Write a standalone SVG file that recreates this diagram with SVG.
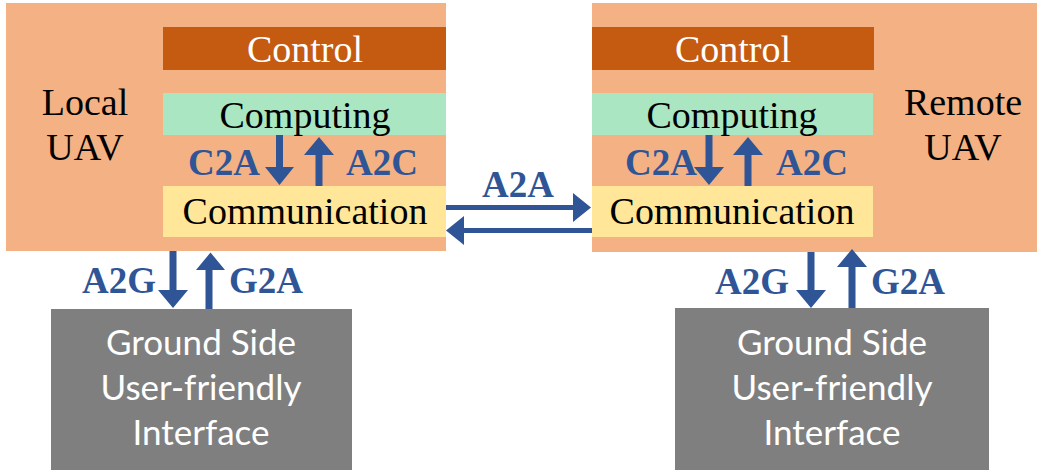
<svg xmlns="http://www.w3.org/2000/svg" width="1037" height="470" viewBox="0 0 1037 470">
  <style>
    .uav { fill: #F4B183; }
    .ctrl { fill: #C55A11; }
    .comp { fill: #A9E6C1; }
    .comm { fill: #FFE699; }
    .gnd { fill: #7F7F7F; }
    .serif { font-family: "Liberation Serif", "Times New Roman", serif; font-size: 38px; text-anchor: middle; }
    .dark { fill: #000000; }
    .light { fill: #FFFFFF; }
    .lbl { font-family: "Liberation Serif", "Times New Roman", serif; font-size: 37px; font-weight: bold; fill: #2F5597; }
    .sans { font-family: Lato, "Open Sans", sans-serif; font-size: 35px; fill: #FFFFFF; text-anchor: middle; }
    .arrow { fill: #2F5597; }
  </style>
  <rect width="1037" height="470" fill="#FFFFFF"/>

  <!-- Local UAV -->
  <g id="local-uav">
    <rect class="uav" x="6" y="3" width="440" height="248"/>
    <text class="serif dark" x="85" y="115">Local</text>
    <text class="serif dark" x="85" y="160">UAV</text>
  </g>
  <g id="local-control">
    <rect class="ctrl" x="163" y="27" width="283" height="43"/>
    <text class="serif light" x="305" y="62">Control</text>
  </g>
  <g id="local-computing">
    <rect class="comp" x="163" y="93" width="283" height="42"/>
    <text class="serif dark" x="305" y="128">Computing</text>
  </g>
  <g id="local-communication">
    <rect class="comm" x="163" y="186" width="283" height="51"/>
    <text class="serif dark" x="305" y="224">Communication</text>
  </g>

  <!-- Remote UAV -->
  <g id="remote-uav">
    <rect class="uav" x="592" y="3" width="445" height="249"/>
    <text class="serif dark" x="963" y="115">Remote</text>
    <text class="serif dark" x="963" y="160">UAV</text>
  </g>
  <g id="remote-control">
    <rect class="ctrl" x="592" y="27" width="282" height="43"/>
    <text class="serif light" x="733" y="62">Control</text>
  </g>
  <g id="remote-computing">
    <rect class="comp" x="592" y="93" width="281" height="42"/>
    <text class="serif dark" x="732" y="128">Computing</text>
  </g>
  <g id="remote-communication">
    <rect class="comm" x="592" y="186" width="281" height="51"/>
    <text class="serif dark" x="732" y="224">Communication</text>
  </g>

  <!-- Ground side interfaces -->
  <g id="local-ground">
    <rect class="gnd" x="51" y="309" width="301" height="161"/>
    <text class="sans" x="201" y="355">Ground Side</text>
    <text class="sans" x="201" y="400">User-friendly</text>
    <text class="sans" x="201" y="445">Interface</text>
  </g>
  <g id="remote-ground">
    <rect class="gnd" x="675" y="308" width="314" height="162"/>
    <text class="sans" x="832" y="355">Ground Side</text>
    <text class="sans" x="832" y="400">User-friendly</text>
    <text class="sans" x="832" y="445">Interface</text>
  </g>

  <!-- Connectors: block arrows with labels -->
  <g id="connectors">
    <!-- local C2A (down) / A2C (up) -->
    <polygon class="arrow" points="276,135 283,135 283,167 294,167 279.5,185 265,167 276,167"/>
    <polygon class="arrow" points="315.5,186 322.5,186 322.5,155 334,155 319,137 304,155 315.5,155"/>
    <text class="lbl" x="188" y="175">C2A</text>
    <text class="lbl" x="346" y="175">A2C</text>

    <!-- remote C2A (down) / A2C (up) -->
    <polygon class="arrow" points="705.5,135 712.5,135 712.5,167 724,167 709,185 694,167 705.5,167"/>
    <polygon class="arrow" points="744.5,186 751.5,186 751.5,155 763,155 748,137 733,155 744.5,155"/>
    <text class="lbl" x="625" y="175">C2A</text>
    <text class="lbl" x="776" y="175">A2C</text>

    <!-- A2A: local to remote, remote to local -->
    <polygon class="arrow" points="446,205 573,205 573,193 591,207.5 573,222 573,210 446,210"/>
    <polygon class="arrow" points="592,228 464,228 464,216 446,230.5 464,245 464,233 592,233"/>
    <text class="lbl" x="482" y="197">A2A</text>

    <!-- local A2G (down) / G2A (up) -->
    <polygon class="arrow" points="169.5,251 176.5,251 176.5,290 188,290 173,308 158,290 169.5,290"/>
    <polygon class="arrow" points="205.5,309 212.5,309 212.5,270 225,270 210.5,252.5 196,270 205.5,270"/>
    <text class="lbl" x="82" y="293">A2G</text>
    <text class="lbl" x="229" y="293">G2A</text>

    <!-- remote A2G (down) / G2A (up) -->
    <polygon class="arrow" points="807.5,252 814.5,252 814.5,290 826,290 811,308 796,290 807.5,290"/>
    <polygon class="arrow" points="848.5,308 855.5,308 855.5,267 867,267 852,249 837,267 848.5,267"/>
    <text class="lbl" x="715" y="294">A2G</text>
    <text class="lbl" x="871" y="294">G2A</text>
  </g>
</svg>
